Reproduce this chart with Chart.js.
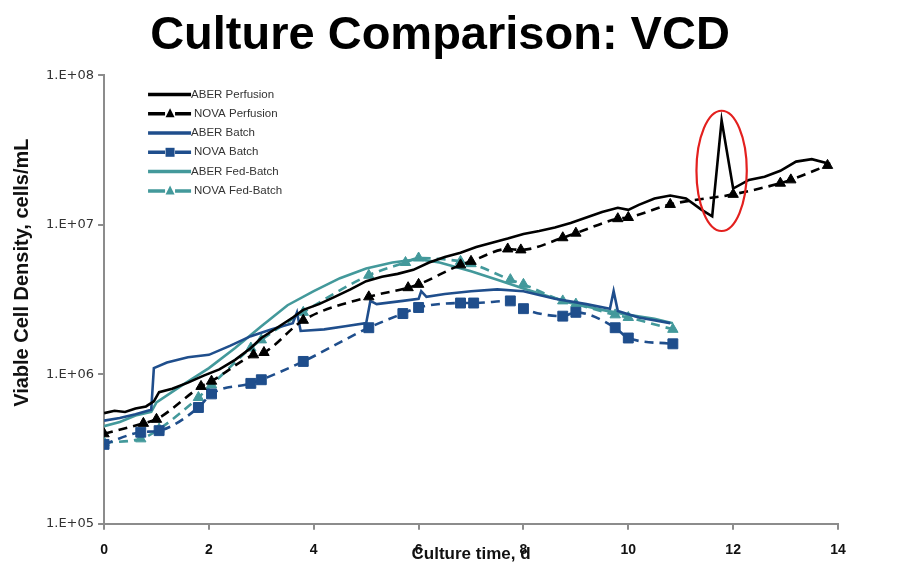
<!DOCTYPE html>
<html>
<head>
<meta charset="utf-8">
<title>Culture Comparison: VCD</title>
<script src="https://cdn.jsdelivr.net/npm/chart.js@4.4.1/dist/chart.umd.min.js"></script>
<style>
    html, body { margin: 0; padding: 0; background: #fff; }
    #wrap { width: 898px; height: 576px; }
</style>
</head>
<body>
<div id="wrap"><canvas id="vcdChart" width="898" height="576"></canvas></div>
<script>
// Viable cell density vs culture time, ABER probe vs NOVA counter

const seriesNames = ['ABER Perfusion', 'NOVA Perfusion', 'ABER Batch', 'NOVA Batch', 'ABER Fed-Batch', 'NOVA Fed-Batch'];

// [day, cells/mL]
const aberPerfusion = [
    [0.0, 5.5e5], [0.2, 5.7e5], [0.4, 5.6e5], [0.6, 5.9e5], [0.8, 6.1e5], [0.95, 6.6e5],
    [1.05, 7.6e5], [1.3, 8.0e5], [1.6, 8.8e5], [1.9, 9.8e5], [2.2, 1.08e6], [2.5, 1.25e6],
    [2.8, 1.5e6], [3.0, 1.75e6], [3.3, 2.05e6], [3.6, 2.4e6], [3.8, 2.7e6], [4.1, 2.95e6],
    [4.4, 3.3e6], [4.7, 3.7e6], [5.0, 4.2e6], [5.3, 4.5e6], [5.6, 4.7e6], [5.9, 5.0e6],
    [6.2, 5.6e6], [6.5, 6.1e6], [6.8, 6.5e6], [7.1, 7.1e6], [7.4, 7.6e6], [7.7, 8.1e6],
    [8.0, 8.7e6], [8.3, 9.1e6], [8.6, 9.6e6], [8.9, 1.03e7], [9.2, 1.12e7], [9.5, 1.22e7],
    [9.8, 1.3e7], [10.0, 1.26e7], [10.2, 1.36e7], [10.5, 1.5e7], [10.8, 1.57e7], [11.1, 1.5e7],
    [11.4, 1.26e7], [11.6, 1.14e7], [11.78, 5.0e7], [12.0, 1.75e7], [12.3, 2.0e7], [12.6, 2.1e7],
    [12.9, 2.3e7], [13.2, 2.65e7], [13.5, 2.75e7], [13.85, 2.55e7]
];
const novaPerfusion = [
    [0, 4.0e5], [0.75, 4.7e5], [1.0, 5.0e5], [1.85, 8.3e5], [2.05, 9.0e5], [2.85, 1.35e6],
    [3.05, 1.4e6], [3.8, 2.3e6], [5.05, 3.3e6], [5.8, 3.8e6], [6.0, 4.0e6], [6.8, 5.4e6],
    [7.0, 5.7e6], [7.7, 6.9e6], [7.95, 6.8e6], [8.75, 8.2e6], [9.0, 8.8e6], [9.8, 1.1e7],
    [10.0, 1.12e7], [10.8, 1.37e7], [12.0, 1.6e7], [12.9, 1.9e7], [13.1, 2.0e7], [13.8, 2.5e7]
];
const aberBatch = [
    [0, 4.9e5], [0.3, 5.1e5], [0.6, 5.4e5], [0.9, 5.8e5], [0.95, 1.1e6], [1.2, 1.2e6],
    [1.6, 1.3e6], [2.0, 1.35e6], [2.4, 1.55e6], [2.8, 1.8e6], [3.2, 2.0e6], [3.6, 2.2e6],
    [3.68, 2.6e6], [3.75, 1.95e6], [4.2, 2.0e6], [4.6, 2.1e6], [5.0, 2.2e6], [5.08, 3.1e6],
    [5.2, 2.95e6], [5.7, 3.1e6], [6.0, 3.2e6], [6.05, 3.6e6], [6.15, 3.3e6], [6.5, 3.45e6],
    [7.0, 3.6e6], [7.5, 3.7e6], [8.0, 3.6e6], [8.6, 3.2e6], [9.2, 2.95e6], [9.65, 2.75e6],
    [9.72, 3.6e6], [9.8, 2.65e6], [10.2, 2.4e6], [10.8, 2.2e6]
];
const novaBatch = [
    [0, 3.4e5], [0.7, 4.1e5], [1.05, 4.2e5], [1.8, 6.0e5], [2.05, 7.4e5], [2.8, 8.7e5],
    [3.0, 9.2e5], [3.8, 1.22e6], [5.05, 2.05e6], [5.7, 2.55e6], [6.0, 2.8e6], [6.8, 3.0e6],
    [7.05, 3.0e6], [7.75, 3.1e6], [8.0, 2.75e6], [8.75, 2.45e6], [9.0, 2.6e6], [9.75, 2.05e6],
    [10.0, 1.75e6], [10.85, 1.6e6]
];
const aberFedBatch = [
    [0, 4.5e5], [0.3, 4.8e5], [0.6, 5.3e5], [0.9, 5.6e5], [1.0, 6.5e5], [1.5, 8.5e5],
    [2.0, 1.1e6], [2.5, 1.5e6], [3.0, 2.1e6], [3.5, 2.9e6], [4.0, 3.6e6], [4.5, 4.4e6],
    [5.0, 5.1e6], [5.5, 5.6e6], [6.0, 5.9e6], [6.4, 5.6e6], [7.0, 4.9e6], [7.5, 4.3e6],
    [8.0, 3.75e6], [8.5, 3.3e6], [9.0, 2.95e6], [9.5, 2.7e6], [10.0, 2.5e6], [10.5, 2.35e6],
    [10.85, 2.2e6]
];
const novaFedBatch = [
    [0, 3.5e5], [0.7, 3.7e5], [1.05, 4.3e5], [1.8, 7.0e5], [2.05, 8.5e5], [2.8, 1.5e6],
    [3.0, 1.7e6], [3.8, 2.6e6], [5.05, 4.6e6], [5.75, 5.6e6], [6.0, 6.0e6], [6.8, 5.7e6],
    [7.0, 5.5e6], [7.75, 4.3e6], [8.0, 4.0e6], [8.75, 3.1e6], [9.0, 2.95e6], [9.75, 2.5e6],
    [10.0, 2.4e6], [10.85, 2.0e6]
];

const xTicks = [0, 2, 4, 6, 8, 10, 12, 14];
const yTicks = [1e5, 1e6, 1e7, 1e8];
const yTitle = 'Viable Cell Density, cells/mL';

// red ring around the ABER perfusion spike
const spikeRing = { day: 11.78, halfDays: 0.48, top: 5.8e7, bottom: 9.1e6 };

const colors = {
    black: '#000000',
    blue: '#1F4E8C',
    teal: '#43999B',
    axis: '#8C8C8C',
    ring: '#E3201E'
};

Chart.defaults.font.family = '"Liberation Sans", Arial, sans-serif';

function pts(rows) {
    return rows.map(([x, y]) => ({ x: x, y: y }));
}

function solid(label, rows, color) {
    return {
        label: label,
        data: pts(rows),
        borderColor: color,
        backgroundColor: color,
        borderWidth: 2.6,
        pointRadius: 0,
        tension: 0
    };
}

function dashed(label, rows, color, marker, size) {
    return {
        label: label,
        data: pts(rows),
        borderColor: color,
        backgroundColor: color,
        borderWidth: 2.6,
        borderDash: [9, 6],
        pointStyle: marker,
        pointRadius: size,
        pointBackgroundColor: color,
        pointBorderColor: color,
        pointBorderWidth: 1,
        cubicInterpolationMode: 'monotone'
    };
}

// legend drawn inside the plot, top left
const insetLegend = {
    id: 'insetLegend',
    afterDatasetsDraw(chart) {
        const ctx = chart.ctx;
        const x0 = chart.chartArea.left + 44;
        const y0 = chart.chartArea.top + 19;
        const len = 43;
        chart.data.datasets.forEach((ds, i) => {
            const y = y0 + i * 19.3;
            ctx.save();
            ctx.strokeStyle = ds.borderColor;
            ctx.fillStyle = ds.borderColor;
            ctx.lineWidth = 3.5;
            ctx.beginPath();
            if (ds.pointRadius > 0) {
                ctx.moveTo(x0, y); ctx.lineTo(x0 + 17, y);
                ctx.moveTo(x0 + 27, y); ctx.lineTo(x0 + len, y);
                ctx.stroke();
                const cx = x0 + 22, r = 4.5;
                ctx.beginPath();
                if (ds.pointStyle === 'rect') {
                    ctx.rect(cx - r, y - r, 2 * r, 2 * r);
                } else {
                    ctx.moveTo(cx, y - r - 1);
                    ctx.lineTo(cx + r, y + r - 1);
                    ctx.lineTo(cx - r, y + r - 1);
                    ctx.closePath();
                }
                ctx.fill();
            } else {
                ctx.moveTo(x0, y); ctx.lineTo(x0 + len, y);
                ctx.stroke();
            }
            ctx.fillStyle = '#333';
            ctx.font = '11.5px "Liberation Sans", Arial, sans-serif';
            ctx.textBaseline = 'middle';
            ctx.fillText(ds.label, x0 + len + (ds.pointRadius > 0 ? 3 : 0), y);
            ctx.restore();
        });
    }
};

// y axis title sits a little above the middle of the axis
const sideTitle = {
    id: 'sideTitle',
    afterDraw(chart) {
        const a = chart.chartArea;
        const ctx = chart.ctx;
        ctx.save();
        ctx.translate(22, a.top + (a.bottom - a.top) * 0.44);
        ctx.rotate(-Math.PI / 2);
        ctx.fillStyle = '#111';
        ctx.font = 'bold 20px "Liberation Sans", Arial, sans-serif';
        ctx.textAlign = 'center';
        ctx.textBaseline = 'middle';
        ctx.fillText(yTitle, 0, 0);
        ctx.restore();
    }
};

const ringMark = {
    id: 'ringMark',
    afterDatasetsDraw(chart) {
        const xs = chart.scales.x, ys = chart.scales.y;
        const cx = xs.getPixelForValue(spikeRing.day);
        const rx = xs.getPixelForValue(spikeRing.day + spikeRing.halfDays) - cx;
        const top = ys.getPixelForValue(spikeRing.top);
        const bottom = ys.getPixelForValue(spikeRing.bottom);
        const ctx = chart.ctx;
        ctx.save();
        ctx.strokeStyle = colors.ring;
        ctx.lineWidth = 2.2;
        ctx.beginPath();
        ctx.ellipse(cx, (top + bottom) / 2, rx, (bottom - top) / 2, 0, 0, Math.PI * 2);
        ctx.stroke();
        ctx.restore();
    }
};

new Chart(document.getElementById('vcdChart'), {
    type: 'line',
    data: {
        datasets: [
            solid(seriesNames[0], aberPerfusion, colors.black),
            dashed(seriesNames[1], novaPerfusion, colors.black, 'triangle', 6),
            solid(seriesNames[2], aberBatch, colors.blue),
            dashed(seriesNames[3], novaBatch, colors.blue, 'rect', 7),
            solid(seriesNames[4], aberFedBatch, colors.teal),
            dashed(seriesNames[5], novaFedBatch, colors.teal, 'triangle', 6)
        ]
    },
    options: {
        responsive: false,
        animation: false,
        layout: {
            padding: { left: 42, right: 60, top: 0, bottom: 7 }
        },
        scales: {
            x: {
                type: 'linear',
                min: 0,
                max: 14,
                afterBuildTicks: function(scale) {
                    scale.ticks = xTicks.map(v => ({ value: v }));
                },
                ticks: {
                    padding: 12,
                    color: '#111',
                    font: { size: 14, weight: 'bold' }
                },
                grid: {
                    drawOnChartArea: false,
                    tickLength: 6,
                    color: colors.axis,
                    lineWidth: 2
                },
                border: { color: colors.axis, width: 2 },
                title: {
                    display: true,
                    text: 'Culture time, d',
                    color: '#111',
                    font: { size: 17, weight: 'bold' },
                    padding: { top: -26, bottom: 4 }
                }
            },
            y: {
                type: 'logarithmic',
                min: 1e5,
                max: 1e8,
                afterBuildTicks: function(scale) {
                    scale.ticks = yTicks.map(v => ({ value: v }));
                },
                ticks: {
                    padding: 4,
                    color: '#333',
                    font: { size: 13, family: '"DejaVu Sans", sans-serif' },
                    callback: function(value) {
                        const p = Math.round(Math.log10(value));
                        return '1.E+' + String(p).padStart(2, '0');
                    }
                },
                grid: {
                    drawOnChartArea: false,
                    tickLength: 6,
                    color: colors.axis,
                    lineWidth: 2
                },
                border: { color: colors.axis, width: 2 }
            }
        },
        plugins: {
            legend: { display: false },
            tooltip: { enabled: false },
            title: {
                display: true,
                text: 'Culture Comparison: VCD',
                color: '#000',
                font: { size: 47, weight: 'bold' },
                padding: { top: 8, bottom: 11 }
            }
        }
    },
    plugins: [insetLegend, ringMark, sideTitle]
});
</script>
</body>
</html>
